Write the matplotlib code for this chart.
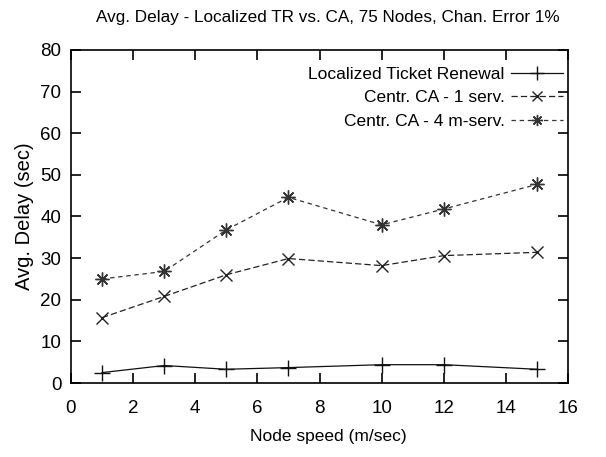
import numpy as np
import matplotlib
matplotlib.use('Agg')
from matplotlib import pyplot as plt

plt.rcParams['font.family'] = ['Liberation Sans', 'DejaVu Sans']

# 数据
speed = [1, 3, 5, 7, 10, 12, 15]
tr_delay = [2.5, 4.2, 3.3, 3.7, 4.4, 4.4, 3.3]
ca1_delay = [15.7, 20.8, 26.0, 29.9, 28.2, 30.6, 31.4]
ca4_delay = [25.0, 26.8, 36.8, 44.6, 38.0, 41.8, 47.7]
labels = ['Localized Ticket Renewal', 'Centr. CA - 1 serv.', 'Centr. CA - 4 m-serv.']

W, H = 606, 457
fig = plt.figure(figsize=(6.06, 4.57), dpi=100)
ax = fig.add_axes([71/W, (H-383)/H, 497/W, 333/H])

ax.plot(speed, tr_delay, color='#111111', lw=0.9, marker='+', ms=12, mew=1.0, label=labels[0])
ax.plot(speed, ca1_delay, color='#222222', lw=0.9, ls=(0, (5, 2.5)), marker='x', ms=9, mew=1.0, label=labels[1])
ax.plot(speed, ca4_delay, color='#333333', lw=0.9, ls=(0, (3.5, 3)), marker=(8, 2, 0), ms=10, mew=1.0, label=labels[2])

ax.set_xlim(0, 16)
ax.set_ylim(0, 80)
ax.set_xticks(range(0, 17, 2))
ax.set_yticks(range(0, 81, 10))
ax.tick_params(direction='in', top=True, right=True, length=7, width=1.2, labelsize=13.5)
ax.tick_params(axis='x', pad=12)
ax.tick_params(axis='y', pad=7)
for s in ax.spines.values():
    s.set_linewidth(1.2)

ax.set_xlabel('Node speed (m/sec)', fontsize=12.5)
ax.xaxis.set_label_coords((328-71)/497, (383-429)/333)
ax.set_ylabel('Avg. Delay (sec)', fontsize=14.5)
ax.yaxis.set_label_coords((34-71)/497, 0.5)
fig.text(328/W, 1-22/H, 'Avg. Delay - Localized TR vs. CA, 75 Nodes, Chan. Error 1%',
         fontsize=12.3, ha='center', va='baseline')

ax.legend(loc='upper right', bbox_to_anchor=(1-5/497, 1-17/333), frameon=False,
          markerfirst=False, fontsize=12.5, handlelength=3.0, handletextpad=0.35,
          labelspacing=0.47, borderpad=0, borderaxespad=0, markerscale=0.8)

plt.savefig('out.png', dpi=100)
